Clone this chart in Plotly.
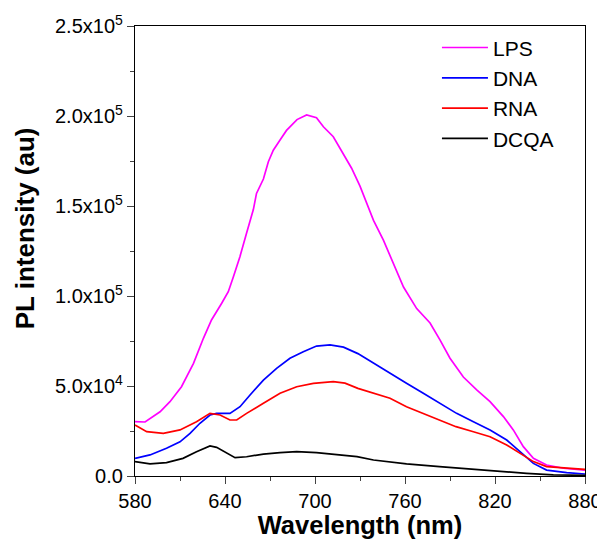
import plotly.graph_objects as go

# values (wavelength in nm, intensity in au)
lps_x = [580, 586.7, 596.7, 603.3, 611, 619, 625.6, 631, 637.8, 642.2, 645.6, 650, 654.4,
         658.9, 661, 665.6, 668.9, 672.2, 676.7, 681, 688, 694.4, 701, 705.6, 712.2, 718.9,
         724.4, 730, 735, 739, 745.6, 752.2, 759, 767.8, 776.7, 783.3, 790, 798.9, 807.8,
         816.7, 825.6, 832.2, 838.9, 845.6, 854.4, 865.6, 880]
lps_y = [30200, 30000, 35700, 41300, 49600, 62600, 76500, 86700, 96000, 102400, 110700,
         122000, 135000, 148000, 157000, 165000, 174600, 181000, 186700, 192000, 198000,
         200600, 199000, 194000, 188500, 178500, 171000, 161000, 151000, 142000, 131000,
         118000, 105000, 93000, 85000, 75600, 65400, 55000, 47800, 41300, 33000, 25600,
         16300, 9800, 6100, 4300, 3300]

dna_x = [580, 590, 601, 610, 616.7, 623.3, 630, 634.4, 643.3, 650, 656.7, 665.6, 674.4,
         683.3, 692.2, 701, 710, 719, 728.6, 739, 750, 761, 772.2, 783.3, 794.4, 805.6,
         816.7, 827.8, 836.7, 845.6, 854.4, 867.8, 880]
dna_y = [9800, 11700, 15400, 19000, 23700, 29300, 33900, 34800, 34800, 38500, 45000, 53300,
         59800, 65400, 69000, 72200, 72800, 71600, 68000, 62600, 57000, 51500, 46000, 40400,
         34800, 30200, 25600, 20000, 13500, 7000, 3300, 1900, 1100]

rna_x = [580, 587.8, 598.9, 610, 621, 630, 636.7, 643.3, 647.8, 654.4, 665.6, 676.7, 687.8,
         698.9, 712.2, 720, 728.6, 739, 750, 761, 772, 783, 794, 805.6, 816.7, 827.8, 836.7,
         845.6, 854.4, 867.8, 880]
rna_y = [28300, 24600, 23700, 25600, 30200, 34800, 33900, 31100, 31100, 34800, 40400, 46000,
         49600, 51500, 52400, 51600, 48700, 46000, 43200, 38500, 34800, 31100, 27400, 24600,
         21800, 17200, 12600, 8000, 5200, 4300, 3700]

dcqa_x = [580, 590, 601, 612, 621, 630, 634.4, 641, 646.7, 654.4, 665.6, 676.7, 687.8, 701,
          714.4, 728, 739, 761, 783, 805.6, 823, 841, 858.9, 880]
dcqa_y = [8000, 6700, 7400, 9800, 13500, 16700, 15900, 12600, 10200, 10700, 12200, 13000,
          13500, 13000, 11700, 10800, 8900, 6700, 5200, 3700, 2400, 1500, 600, 400]

x_ticks = [580, 640, 700, 760, 820, 880]
y_ticks = [0, 50000, 100000, 150000, 200000, 250000]
y_labels = ["0.0", "5.0x10<sup>4</sup>", "1.0x10<sup>5</sup>", "1.5x10<sup>5</sup>",
            "2.0x10<sup>5</sup>", "2.5x10<sup>5</sup>"]

series = [
    ("LPS", lps_x, lps_y, "#ff00ff"),
    ("DNA", dna_x, dna_y, "#0000ff"),
    ("RNA", rna_x, rna_y, "#ff0000"),
    ("DCQA", dcqa_x, dcqa_y, "#000000"),
]

fig = go.Figure()
for name, xs, ys, color in series:
    fig.add_trace(go.Scatter(x=xs, y=ys, name=name, mode="lines",
                             line=dict(color=color, width=1.7)))

axis_font = dict(family="Liberation Sans, Arial, sans-serif", size=20, color="black")

# page body has an 8px margin, so the figure is a bit smaller than the window
fig.update_layout(
    width=597, height=531,
    margin=dict(l=127, r=20, t=18, b=63),
    paper_bgcolor="white", plot_bgcolor="white",
    font=axis_font,
    showlegend=True,
    legend=dict(x=0.671, y=0.997, xanchor="left", yanchor="top",
                bgcolor="rgba(0,0,0,0)", font=dict(size=21),
                itemwidth=46, tracegroupgap=0),
    xaxis=dict(
        range=[580, 880], tickvals=x_ticks, ticks="outside", ticklen=7, tickwidth=1.3,
        showline=True, linecolor="black", linewidth=1.3, mirror=True, showgrid=False,
        zeroline=False, tickfont=axis_font, automargin=False,
        minor=dict(ticks="outside", ticklen=4, tickwidth=1.3, dtick=30, tick0=580,
                   showgrid=False),
        title=dict(text="<b>Wavelength (nm)</b>", font=dict(size=25.5)),
    ),
    yaxis=dict(
        range=[0, 250000], tickvals=y_ticks, ticktext=y_labels, ticks="outside", ticklen=7,
        tickwidth=1.3, showline=True, linecolor="black", linewidth=1.3, mirror=True,
        showgrid=False, zeroline=False, tickfont=axis_font, automargin=False,
        minor=dict(ticks="outside", ticklen=4, tickwidth=1.3, dtick=25000, tick0=0,
                   showgrid=False),
    ),
)

# y title sits a little above the middle of the axis in the original
fig.add_annotation(text="<b>PL intensity (au)</b>", textangle=-90, showarrow=False,
                   xref="paper", yref="paper", x=-0.244, y=0.551,
                   xanchor="center", yanchor="middle", font=dict(size=26))

fig.write_html("out.html")
